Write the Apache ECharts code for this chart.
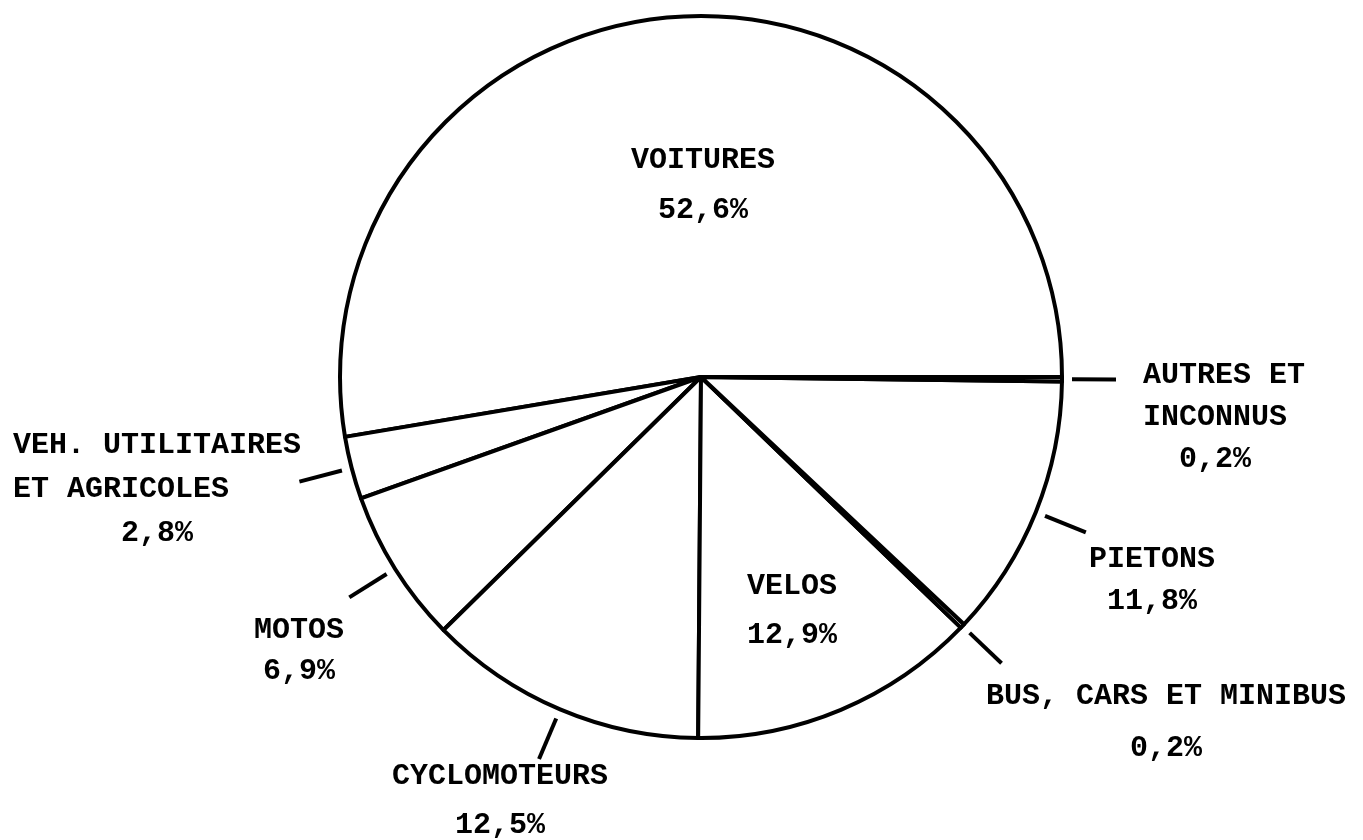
<!DOCTYPE html>
<html>
<head>
<meta charset="utf-8">
<script src="https://cdn.jsdelivr.net/npm/echarts@6/dist/echarts.min.js"></script>
<style>
  html, body { margin: 0; padding: 0; background: #fff; }
  #chart { width: 1363px; height: 840px; }
</style>
</head>
<body>
<div id="chart"></div>
<script>
// ---- data ----
const categories = [
  'VOITURES',
  'VEH. UTILITAIRES ET AGRICOLES',
  'MOTOS',
  'CYCLOMOTEURS',
  'VELOS',
  'BUS, CARS ET MINIBUS',
  'PIETONS',
  'AUTRES ET INCONNUS'
];
const values = [52.6, 2.8, 6.9, 12.5, 12.9, 0.2, 11.8, 0.2];
const labelTexts = [
  'VOITURES',
  'VEH. UTILITAIRES\nET AGRICOLES',
  'MOTOS',
  'CYCLOMOTEURS',
  'VELOS',
  'BUS, CARS ET MINIBUS',
  'PIETONS',
  'AUTRES ET\nINCONNUS'
];
const insideLabels = ['VOITURES', 'VELOS'];

// ---- layout / style ----
const CX = 701, CY = 377, R = 361;
const TICK_R = 371, TICK_LEN = 44;
const FONT = '"Liberation Mono", "DejaVu Sans Mono", monospace';
// label block anchor relative to pie centre: dx, dy (top of block), align, lineHeight, indent of the % line
const LABEL_LAYOUT = {
  'VOITURES': { dx: 2, dy: -242, align: 'center', lh: 50, indent: '' },
  'VELOS': { dx: 91, dy: 185, align: 'center', lh: 49, indent: '' },
  'AUTRES ET INCONNUS': { dx: 442, dy: -23, align: 'left', lh: 42, indent: '  ' },
  'PIETONS': { dx: 451, dy: 161, align: 'center', lh: 42, indent: '' },
  'BUS, CARS ET MINIBUS': { dx: 465, dy: 293, align: 'center', lh: 52, indent: '' },
  'CYCLOMOTEURS': { dx: -201, dy: 375, align: 'center', lh: 49, indent: '' },
  'MOTOS': { dx: -402, dy: 233, align: 'center', lh: 41, indent: '' },
  'VEH. UTILITAIRES ET AGRICOLES': { dx: -688, dy: 46, align: 'left', lh: 44, indent: '      ' }
};

function pct(v) { return v.toFixed(1).replace('.', ',') + '%'; }
function labelFor(i) {
  const L = LABEL_LAYOUT[categories[i]];
  return labelTexts[i] + '\n' + L.indent + pct(values[i]);
}
const textStyle = { color: '#000', fontFamily: FONT, fontWeight: 'bold', fontSize: 30 };

const mainData = categories.map((name, i) => {
  const inside = insideLabels.includes(name);
  return {
    name, value: values[i],
    label: Object.assign({ show: inside, position: 'inside', formatter: labelFor(i), lineHeight: LABEL_LAYOUT[name].lh }, textStyle)
  };
});
const tickData = categories.map((name, i) => {
  const inside = insideLabels.includes(name);
  return {
    name, value: values[i],
    label: Object.assign({ show: !inside, position: 'outside', formatter: labelFor(i), lineHeight: LABEL_LAYOUT[name].lh }, textStyle),
    labelLine: { show: !inside }
  };
});

function layoutFn(withLine) {
  return function (params) {
    const name = categories[params.dataIndex];
    const L = LABEL_LAYOUT[name];
    const out = { x: CX + L.dx, y: CY + L.dy, align: L.align, verticalAlign: 'top' };
    if (withLine && params.labelLinePoints) {
      const p = params.labelLinePoints;
      out.labelLinePoints = [p[0], p[1]];
    }
    return out;
  };
}

const chart = echarts.init(document.getElementById('chart'), null, { renderer: 'canvas' });
chart.setOption({
  backgroundColor: '#fff',
  animation: false,
  series: [
    {
      type: 'pie',
      center: [CX, CY],
      radius: [0, R],
      startAngle: 0,
      clockwise: false,
      avoidLabelOverlap: false,
      silent: true,
      itemStyle: { color: '#fff', borderColor: '#000', borderWidth: 4 },
      labelLine: { show: false },
      labelLayout: layoutFn(false),
      data: mainData,
      z: 2
    },
    {
      type: 'pie',
      center: [CX, CY],
      radius: [0, TICK_R],
      startAngle: 0,
      clockwise: false,
      avoidLabelOverlap: false,
      silent: true,
      itemStyle: { color: 'rgba(0,0,0,0)', borderWidth: 0 },
      labelLine: {
        show: true, length: TICK_LEN, length2: 0, smooth: false,
        lineStyle: { color: '#000', width: 4 }
      },
      labelLayout: layoutFn(true),
      data: tickData,
      z: 1
    }
  ]
});
</script>
</body>
</html>
